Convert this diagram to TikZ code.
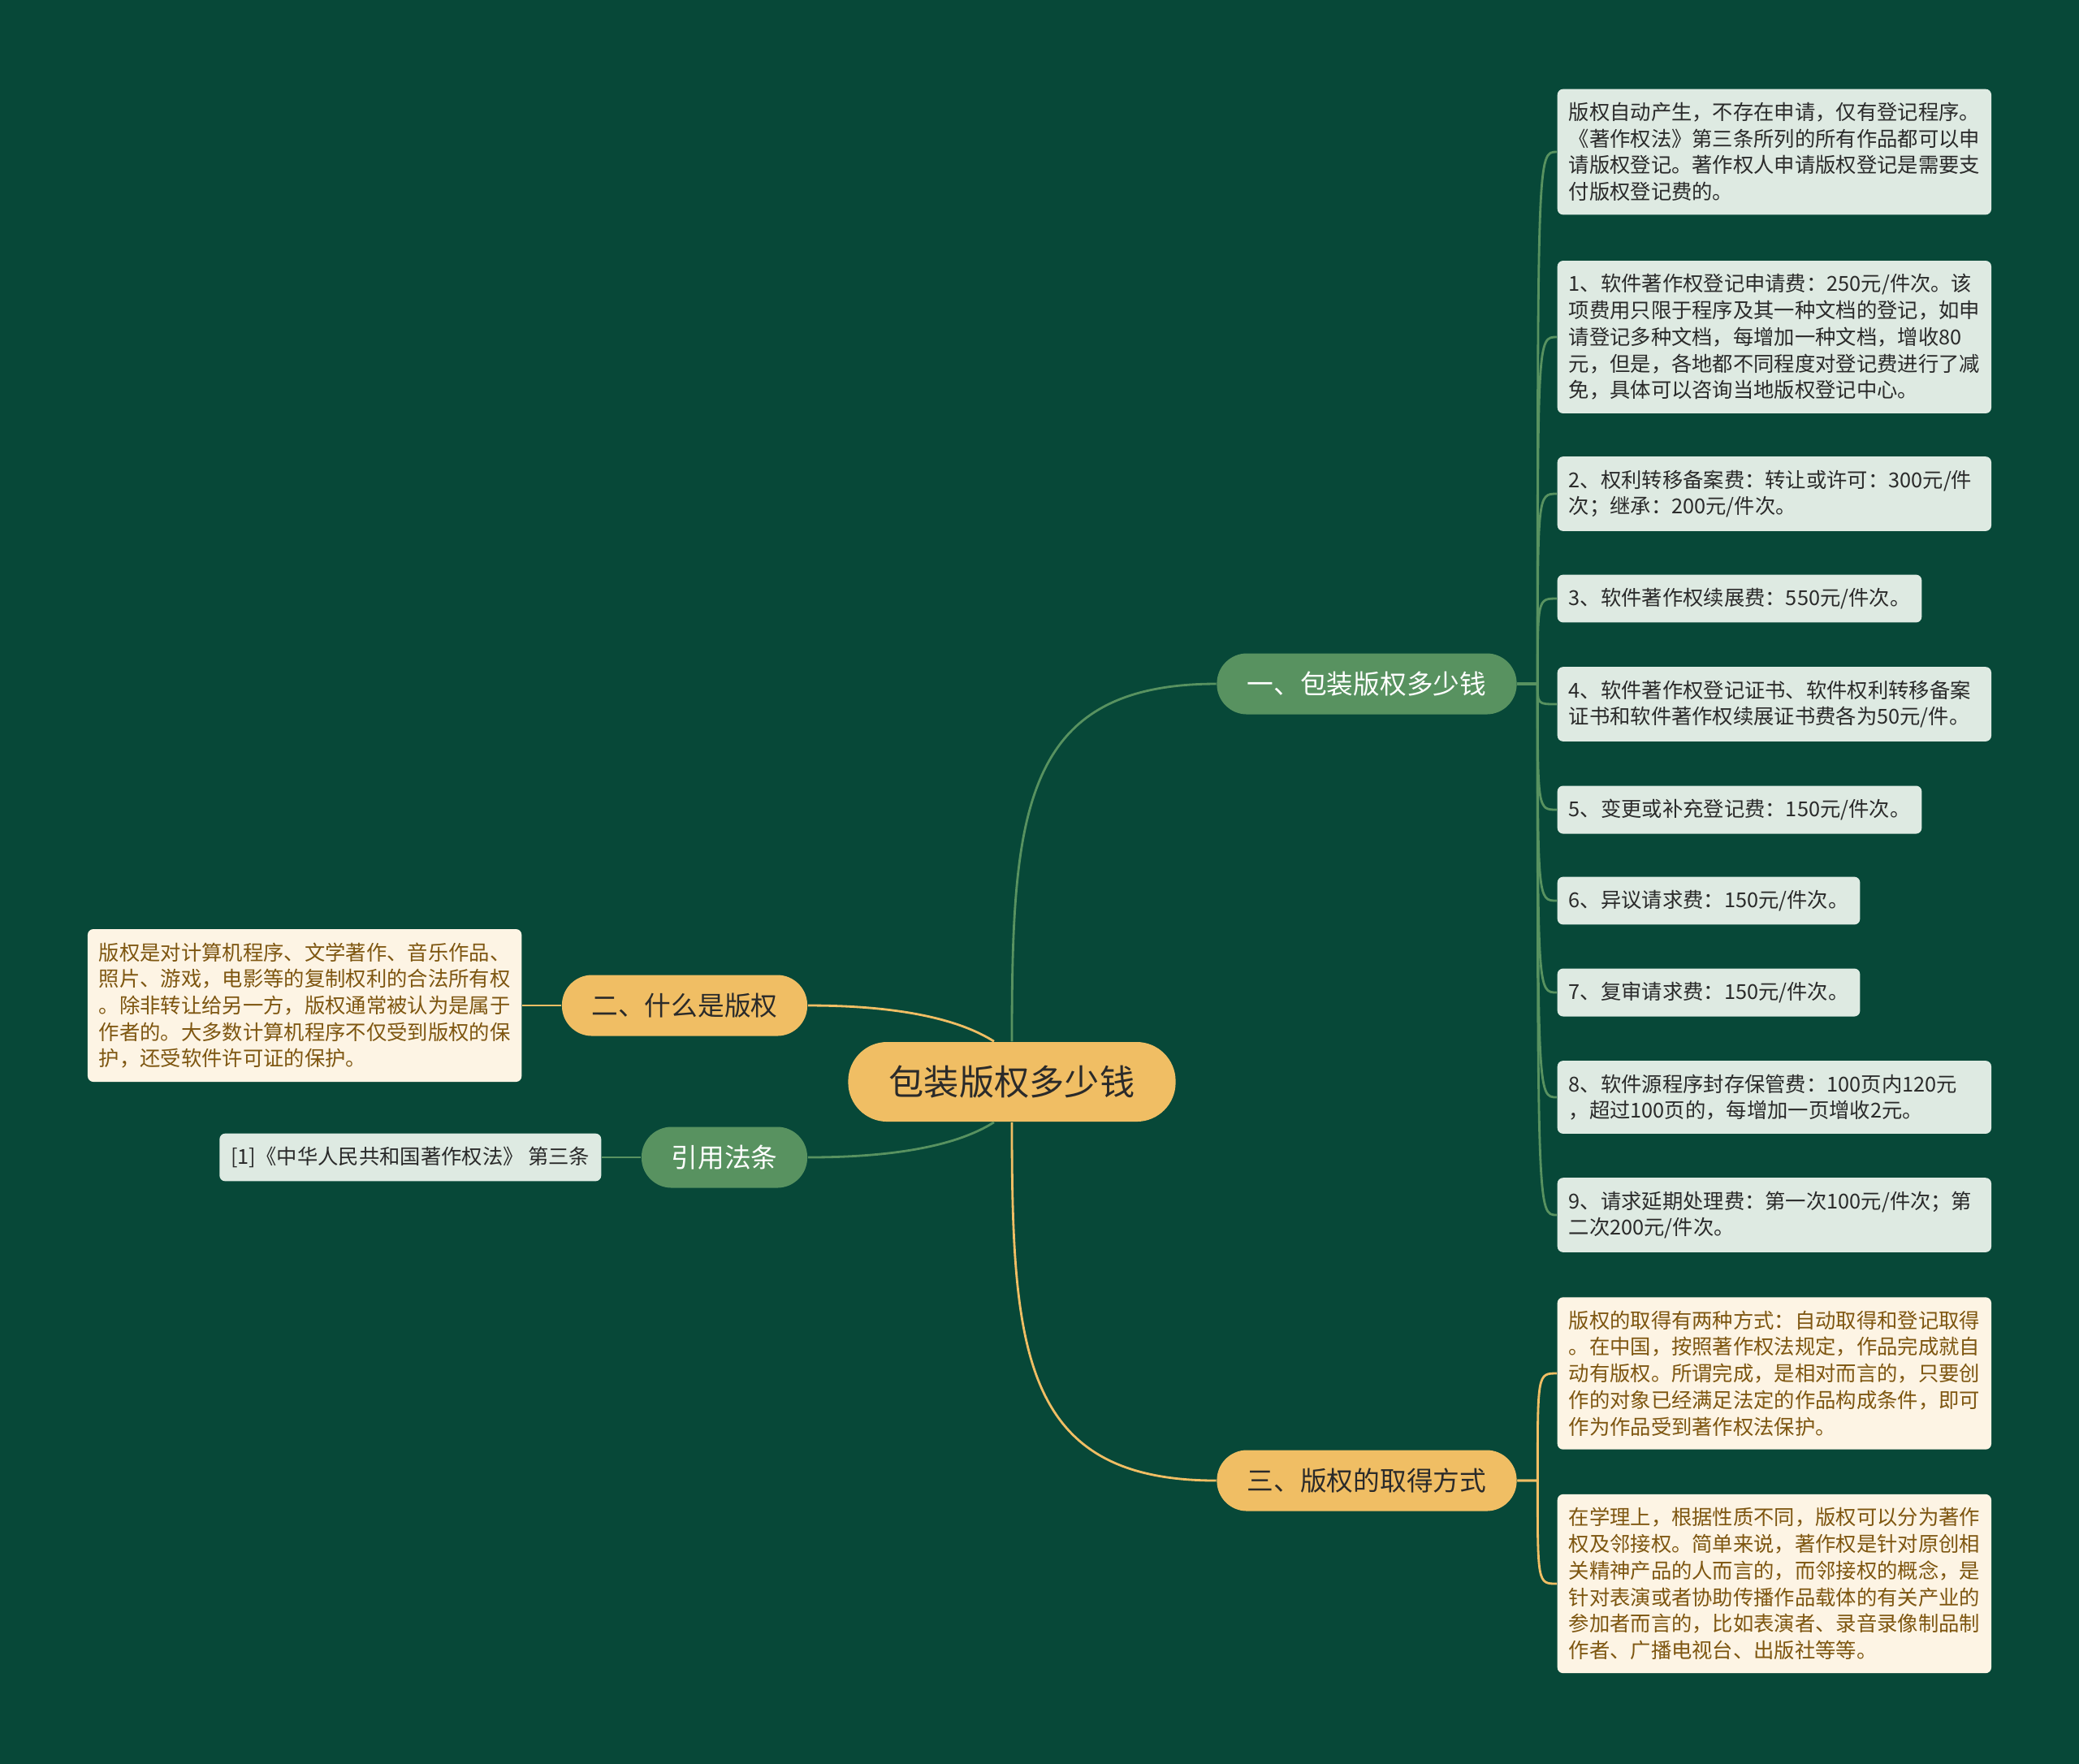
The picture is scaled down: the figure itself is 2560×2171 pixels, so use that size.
\documentclass[tikz,border=0pt]{standalone}
\usepackage{fontspec}
\setmainfont{Noto Sans CJK SC}
\usepackage{xcolor}
\usepackage{tikz}
\usetikzlibrary{positioning}
\definecolor{mapbg}{HTML}{074838}
\definecolor{mapgreen}{HTML}{589260}
\definecolor{maporange}{HTML}{F0BE64}
\definecolor{leafgreen}{HTML}{DEEAE2}
\definecolor{leafcream}{HTML}{FDF4E4}
\definecolor{inkdark}{HTML}{2A2A2A}
\definecolor{inkbrown}{HTML}{7E5610}
\newcommand{\leaffont}{\fontsize{7.2}{9.3}\selectfont}
\newcommand{\branchfont}{\fontsize{9.3}{11}\selectfont}

\begin{document}
\begin{tikzpicture}[x=0.01cm,y=-0.01cm,
  rootbox/.style={fill=maporange,text=inkdark,rounded corners=0.48cm,minimum width=4.03cm,minimum height=0.98cm,font=\fontsize{12.3}{14}\selectfont},
  branchgreen/.style={fill=mapgreen,text=white,rounded corners=0.37cm,minimum height=0.75cm,font=\branchfont},
  branchorange/.style={fill=maporange,text=inkdark,rounded corners=0.37cm,minimum height=0.75cm,font=\branchfont},
  leafbox/.style={rounded corners=0.07cm,inner xsep=0.14cm,inner ysep=0.165cm,align=left,font=\leaffont},
  leafgreenbox/.style={leafbox,fill=leafgreen,text=inkdark},
  leafcreambox/.style={leafbox,fill=leafcream,text=inkbrown},
  widebox/.style={text width=5.06cm},
  gline/.style={mapgreen,line width=0.8pt},
  oline/.style={maporange,line width=0.8pt}]

  \useasboundingbox (0,0) rectangle (2560,2171);
  \fill[mapbg] (-20,-20) rectangle (2580,2191);

  % centre and main branches
  \node[rootbox] (root) at (1246,1332) {包装版权多少钱};
  \node[branchgreen,minimum width=3.69cm] (b1) at (1683,842) {一、包装版权多少钱};
  \node[branchorange,minimum width=3.69cm] (b3) at (1683,1823) {三、版权的取得方式};
  \node[branchorange,minimum width=3.02cm] (b2) at (843,1238) {二、什么是版权};
  \node[branchgreen,minimum width=2.04cm] (b4) at (892,1425) {引用法条};

  % left leaves
  \node[leafcreambox,widebox,anchor=east] (whatis) at (643,1238) {版权是对计算机程序、文学著作、音乐作品、\\照片、游戏，电影等的复制权利的合法所有权\\。除非转让给另一方，版权通常被认为是属于\\作者的。大多数计算机程序不仅受到版权的保\\护，还受软件许可证的保护。};
  \node[leafgreenbox,anchor=east] (cite) at (741,1425) {[1]《中华人民共和国著作权法》 第三条};

  % fee leaves
  \node[leafgreenbox,widebox,anchor=west] (g0) at (1917,187) {版权自动产生，不存在申请，仅有登记程序。\\《著作权法》第三条所列的所有作品都可以申\\请版权登记。著作权人申请版权登记是需要支\\付版权登记费的。};
  \node[leafgreenbox,widebox,anchor=west] (g1) at (1917,415) {1、软件著作权登记申请费：250元/件次。该\\项费用只限于程序及其一种文档的登记，如申\\请登记多种文档，每增加一种文档，增收80\\元，但是，各地都不同程度对登记费进行了减\\免，具体可以咨询当地版权登记中心。};
  \node[leafgreenbox,widebox,anchor=west] (g2) at (1917,608) {2、权利转移备案费：转让或许可：300元/件\\次；继承：200元/件次。};
  \node[leafgreenbox,anchor=west] (g3) at (1917,737) {3、软件著作权续展费：550元/件次。};
  \node[leafgreenbox,widebox,anchor=west] (g4) at (1917,867) {4、软件著作权登记证书、软件权利转移备案\\证书和软件著作权续展证书费各为50元/件。};
  \node[leafgreenbox,anchor=west] (g5) at (1917,997) {5、变更或补充登记费：150元/件次。};
  \node[leafgreenbox,anchor=west] (g6) at (1917,1109) {6、异议请求费：150元/件次。};
  \node[leafgreenbox,anchor=west] (g7) at (1917,1222) {7、复审请求费：150元/件次。};
  \node[leafgreenbox,widebox,anchor=west] (g8) at (1917,1351) {8、软件源程序封存保管费：100页内120元\\，超过100页的，每增加一页增收2元。};
  \node[leafgreenbox,widebox,anchor=west] (g9) at (1917,1496) {9、请求延期处理费：第一次100元/件次；第\\二次200元/件次。};

  % acquisition leaves
  \node[leafcreambox,widebox,anchor=west] (c1) at (1917,1691) {版权的取得有两种方式：自动取得和登记取得\\。在中国，按照著作权法规定，作品完成就自\\动有版权。所谓完成，是相对而言的，只要创\\作的对象已经满足法定的作品构成条件，即可\\作为作品受到著作权法保护。};
  \node[leafcreambox,widebox,anchor=west] (c2) at (1917,1950) {在学理上，根据性质不同，版权可以分为著作\\权及邻接权。简单来说，著作权是针对原创相\\关精神产品的人而言的，而邻接权的概念，是\\针对表演或者协助传播作品载体的有关产业的\\参加者而言的，比如表演者、录音录像制品制\\作者、广播电视台、出版社等等。};

  % connectors
  \draw[gline] (root.north) .. controls +(0,-283) and +(-239,0) .. (b1.west);
  \draw[oline] (root.south) .. controls +(0,283) and +(-239,0) .. (b3.west);
  \draw[oline] (b2.east) .. controls +(110,0) and +(-44,-28) .. ([xshift=-0.22cm]root.north);
  \draw[gline] (b4.east) .. controls +(110,0) and +(-44,28) .. ([xshift=-0.22cm]root.south);
  \draw[oline] (b2.west) -- (whatis.east);
  \draw[gline] (b4.west) -- (cite.east);

  \coordinate (j1) at ([xshift=0.25cm]b1.east);
  \coordinate (j3) at ([xshift=0.25cm]b3.east);
  \foreach \n in {0,...,9}
    \draw[gline] (b1.east) -- (j1) .. controls (j1 |- g\n.west) .. (g\n.west);
  \foreach \n in {1,2}
    \draw[oline] (b3.east) -- (j3) .. controls (j3 |- c\n.west) .. (c\n.west);
\end{tikzpicture}
\end{document}
